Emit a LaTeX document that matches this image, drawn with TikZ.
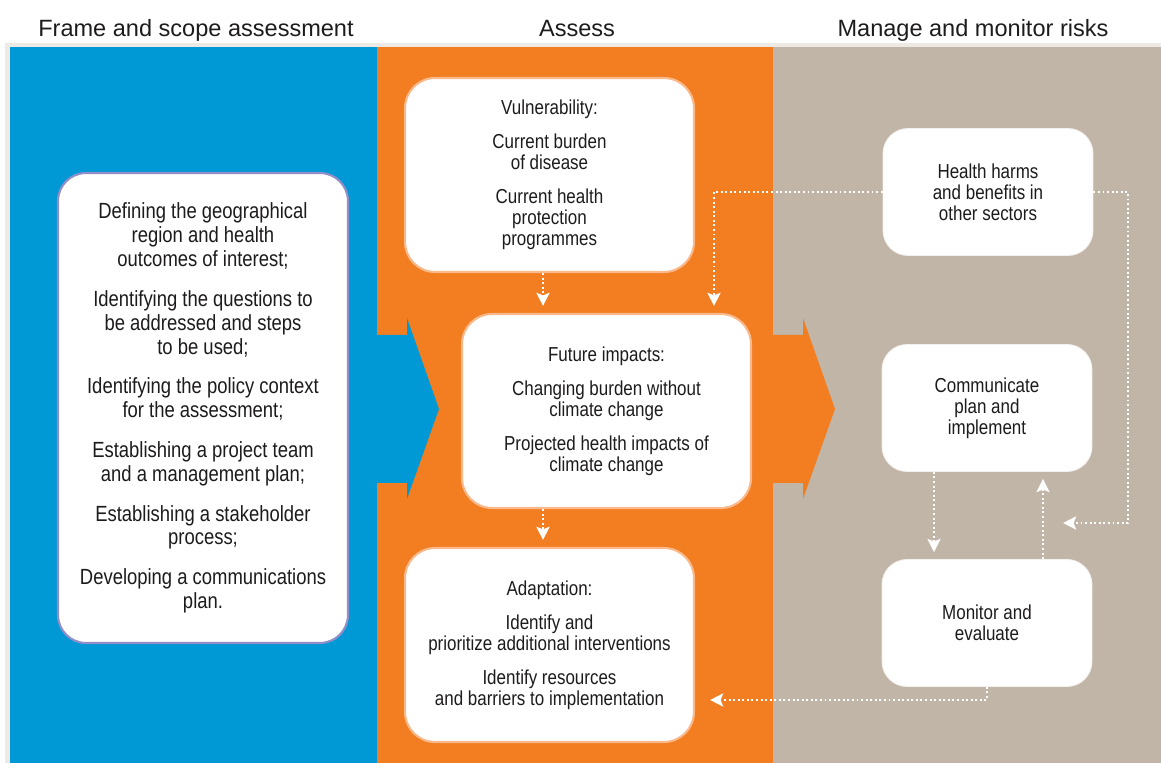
\documentclass[tikz,border=0pt]{standalone}
\usepackage{fontspec}
\setmainfont{Liberation Sans}
\newfontfamily\bodyfont[FakeStretch=0.84]{Liberation Sans}
\usetikzlibrary{arrows.meta}
\definecolor{mblue}{RGB}{0,153,213}
\definecolor{morange}{RGB}{243,125,33}
\definecolor{mtan}{RGB}{193,181,167}
\definecolor{mgrey}{RGB}{237,234,230}
\definecolor{mpeach}{RGB}{250,185,138}
\definecolor{mlilac}{RGB}{146,143,200}
\definecolor{mtext}{RGB}{30,27,28}
\tikzset{box/.style = {fill = white, align = center, text = mtext, inner sep = 0,
    font = \bodyfont\fontsize{11.5}{11.9}\selectfont}}
\tikzset{abox/.style = {box, draw = mpeach, line width = 1.2pt, rounded corners = 0.6cm,
    minimum width = 5.78cm, minimum height = 3.88cm}}
\tikzset{mbox/.style = {box, draw = mtan!20!white, line width = 0.5pt, rounded corners = 0.5cm,
    minimum width = 4.2cm, minimum height = 2.54cm}}
\tikzset{flow/.style = {white, line width = 1.1pt, dash pattern = on 1.1pt off 1.5pt,
    -{Stealth[length = 7.5pt, width = 7.5pt, inset = 1.5pt]}, shorten > = 4pt}}
\tikzset{head/.style = {text = mtext, anchor = base, font = \fontsize{13.4}{16}\selectfont}}

\begin{document}
\begin{tikzpicture}[x = 0.02cm, y = -0.02cm]
      \useasboundingbox (0, 0) rectangle (1161, 763);
      \fill [mgrey] (5, 43) rectangle (1161, 763);
      \fill [mblue] (10, 47) rectangle (377, 763);
      \fill [morange] (377, 47) rectangle (773, 763);
      \fill [mtan] (773, 47) rectangle (1161, 763);

      \node [head] (frame) at (196, 37) {Frame and scope assessment};
      \node [head] (assess) at (577, 37) {Assess};
      \node [head] (manage) at (973, 37) {Manage and monitor risks};

      \foreach \x/\c in {377/mblue, 773/morange} {
        \fill [\c] (\x, 335) -- ++(30, 0) -- ++(0, -17) -- ++(32, 91)
          -- ++(-32, 90) -- ++(0, -16) -- ++(-30, 0) -- cycle;
      }

      \node [box, draw = mlilac, line width = 1.2pt, rounded corners = 0.56cm,
        minimum width = 5.8cm, minimum height = 9.4cm,
        font = \bodyfont\fontsize{12.5}{13.6}\selectfont] (scope) at (203, 408)
        {Defining the geographical\\region and health\\outcomes of interest;\\[9pt]
         Identifying the questions to\\be addressed and steps\\to be used;\\[9pt]
         Identifying the policy context\\for the assessment;\\[9pt]
         Establishing a project team\\and a management plan;\\[9pt]
         Establishing a stakeholder\\process;\\[9pt]
         Developing a communications\\plan.};

      \node [abox] (vuln) at (549.5, 175)
        {Vulnerability:\\[7.4pt] Current burden\\of disease\\[7.4pt]
         Current health\\protection\\programmes};
      \node [abox] (future) at (606.5, 411)
        {Future impacts:\\[7.4pt] Changing burden without\\climate change\\[7.4pt]
         Projected health impacts of\\climate change};
      \node [abox] (adapt) at (549.5, 645)
        {Adaptation:\\[7.4pt] Identify and\\prioritize additional interventions\\[7.4pt]
         Identify resources\\and barriers to implementation};

      \node [mbox] (harms) at (988, 192) {Health harms\\and benefits in\\other sectors};
      \node [mbox] (comm) at (987, 408) {Communicate\\plan and\\implement};
      \node [mbox] (monitor) at (987, 623) {Monitor and\\evaluate};

      \coordinate (xa) at (543, 0);
      \coordinate (xb) at (714, 0);
      \coordinate (xd) at (934, 0);
      \coordinate (xe) at (1043, 0);
      \coordinate (bend) at (1128, 523);
      \coordinate (loopend) at (1056, 523);
      \coordinate (backend) at (703, 700);

      \draw [flow] (vuln.south -| xa) -- (future.north -| xa);
      \draw [flow] (future.south -| xa) -- (adapt.north -| xa);
      \draw [flow] (harms.west) -| (future.north -| xb);
      \draw [flow] (harms.east) -| (bend) -- (loopend);
      \draw [flow] (comm.south -| xd) -- (monitor.north -| xd);
      \draw [flow] (monitor.north -| xe) -- (comm.south -| xe);
      \draw [flow] (monitor.south) |- (backend);
    \end{tikzpicture}
\end{document}
